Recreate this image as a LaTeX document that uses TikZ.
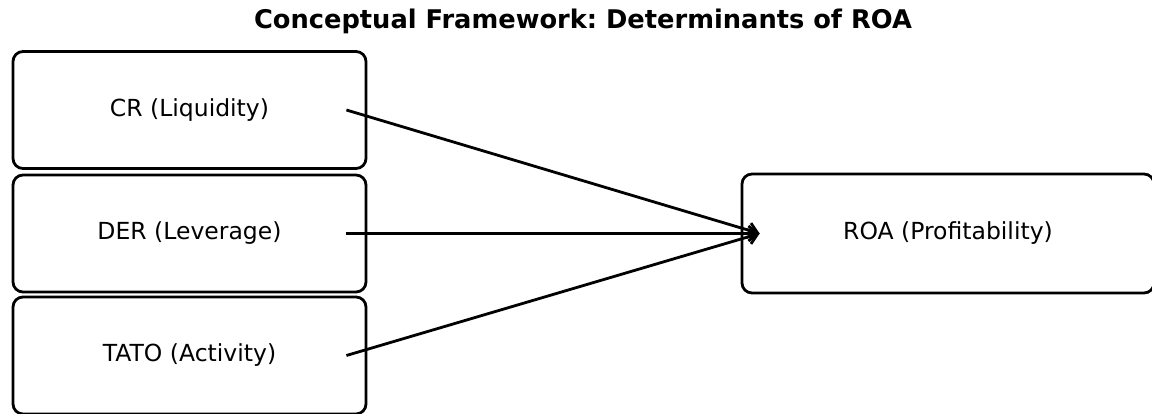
\documentclass[tikz,border=0pt]{standalone}
\usepackage{fontspec}
\setmainfont{DejaVu Sans}
\usetikzlibrary{arrows.meta}
\frenchspacing
\begin{document}
\begin{tikzpicture}[x=1pt,y=-1pt,
  box/.style={draw=black, line width=2.8pt, rounded corners=10pt, fill=white,
    minimum width=353pt, minimum height=117pt, inner sep=0pt, font=\fontsize{23.5}{27}\selectfont},
  link/.style={draw=black, line width=2.8pt, -{Straight Barb[length=9pt,width=15pt,line width=2.8pt]}}
]
\clip (0,0) rectangle (1152,414);
\fill[white] (0,0) rectangle (1152,414);
\node[font=\bfseries\fontsize{25.7}{30}\selectfont] (title) at (583,21) {Conceptual Framework: Determinants of ROA};
\node[box] (cr) at (189.5,110) {CR (Liquidity)};
\node[box] (der) at (189.5,233.5) {DER (Leverage)};
\node[box] (tato) at (189.5,355.5) {TATO (Activity)};
\node[box, minimum width=412pt, minimum height=119pt] (roa) at (948,233.5) {ROA (Profitability)};
\coordinate (s1) at ([xshift=-21pt]cr.east);
\coordinate (s2) at ([xshift=-21pt]der.east);
\coordinate (s3) at ([xshift=-21pt]tato.east);
\coordinate (t) at ([xshift=19pt]roa.west);
\draw[link] (s1) -- (t);
\draw[link] (s2) -- (t);
\draw[link] (s3) -- (t);
\end{tikzpicture}
\end{document}
